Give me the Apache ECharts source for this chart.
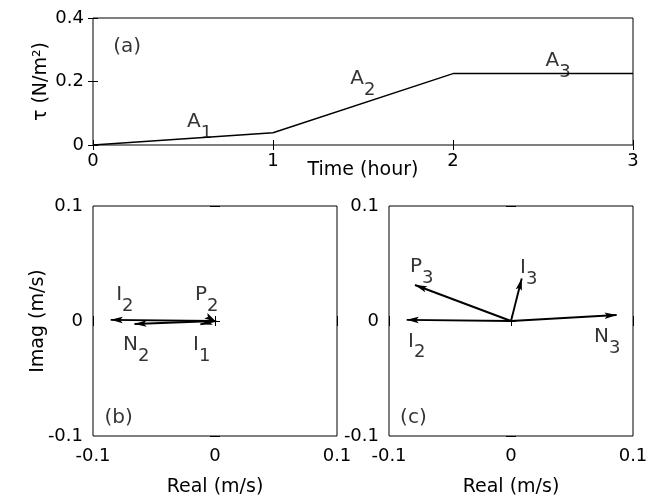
<!DOCTYPE html>
<html>
<head>
<meta charset="utf-8">
<script src="https://cdn.jsdelivr.net/npm/echarts@6/dist/echarts.min.js"></script>
<style>
  html, body { margin: 0; padding: 0; background: #fff; }
  #chart { width: 661px; height: 501px; }
</style>
</head>
<body>
<div id="chart"></div>
<script>
// ---- (a) wind stress ramp over three hours ----
const timeHours = [0, 1, 2, 3];
const stressValues = [0, 0.0385, 0.225, 0.225];

// segment tags on the ramp: letter, subscript, anchor where letter meets subscript (hour, N/m^2)
const segBase = ['A', 'A', 'A'];
const segSub = ['1', '2', '3'];
const segAnchor = [[0.598, 0.072], [1.505, 0.208], [2.59, 0.265]];

// ---- (b) phasors, first/second stage (m/s) ----
const phasorBBase = ['I', 'N', 'P', 'I'];
const phasorBSub = ['2', '2', '2', '1'];
const phasorBReal = [-0.0855, -0.066, 0.001, -0.012];
const phasorBImag = [0.001, -0.0026, -0.0006, -0.003];
const phasorBTag = [[-0.0762, 0.0226], [-0.0631, -0.0209], [-0.0066, 0.0226], [-0.0131, -0.0209]];

// ---- (c) phasors, third stage (m/s) ----
const phasorCBase = ['I', 'P', 'I', 'N'];
const phasorCSub = ['2', '3', '3', '3'];
const phasorCReal = [-0.0855, -0.0787, 0.0088, 0.0866];
const phasorCImag = [0.001, 0.0313, 0.037, 0.0052];
const phasorCTag = [[-0.0795, -0.018], [-0.073, 0.047], [0.0123, 0.046], [0.0803, -0.0139]];

const panelTags = ['(a)', '(b)', '(c)'];
const panelTagAnchor = [[0.19, 0.31], [-0.079, -0.084], [-0.080, -0.084]];

const FONT = 'DejaVu Sans';
const BASE_SIZE = 20;
const SUB_SIZE = 18;
const SUB_DROP = 11;

// narrow filled arrow head; tip sits at the centre of its 24x24 box
const HEAD = 'path://M0,0L0,0M24,24L24,24M12,12L15.2,24L12,21.6L8.8,24Z';

function phasorLines(real, imag) {
  return real.map((re, i) => ({ coords: [[0, 0], [re, imag[i]]] }));
}

// letter drawn to the left of the anchor, its subscript to the right and lowered
function tagPoints(anchors, base, sub) {
  const pts = [];
  anchors.forEach((a, i) => {
    pts.push({ value: [a[0], a[1]], label: { formatter: base[i], align: 'right', fontSize: BASE_SIZE } });
    pts.push({ value: [a[0], a[1]], label: { formatter: sub[i], align: 'left', fontSize: SUB_SIZE, offset: [0, SUB_DROP] } });
  });
  return pts;
}

const tickStyle = { show: true, inside: true, length: 5, lineStyle: { color: '#000', width: 1 } };

function mainX(gridIndex, extra) {
  return Object.assign({
    type: 'value', gridIndex: gridIndex, position: 'bottom',
    axisLine: { show: false },
    axisTick: tickStyle,
    axisLabel: { color: '#000', fontFamily: FONT, fontSize: 18, margin: 11 },
    splitLine: { show: false },
    nameLocation: 'middle',
    nameMoveOverlap: false,
    nameTextStyle: { color: '#000', fontFamily: FONT, fontSize: 19 }
  }, extra);
}
function mainY(gridIndex, extra) {
  return Object.assign({
    type: 'value', gridIndex: gridIndex, position: 'left',
    axisLine: { show: false },
    axisTick: tickStyle,
    axisLabel: { color: '#000', fontFamily: FONT, fontSize: 18, margin: 10 },
    splitLine: { show: false },
    nameLocation: 'middle',
    nameMoveOverlap: false,
    nameTextStyle: { color: '#000', fontFamily: FONT, fontSize: 19 }
  }, extra);
}
function mirror(axis, pos) {
  return Object.assign({}, axis, {
    position: pos, name: '', axisLabel: { show: false }, axisTick: tickStyle
  });
}

const xa0 = mainX(0, { min: 0, max: 3, interval: 1, name: 'Time (hour)', nameGap: 16, axisLabel: { color: '#000', fontFamily: FONT, fontSize: 18, margin: 7 } });
const ya0 = mainY(0, { min: 0, max: 0.4, interval: 0.2, name: 'τ (N/m²)', nameGap: 42, axisLabel: { color: '#000', fontFamily: FONT, fontSize: 18, margin: 9 } });
const xa1 = mainX(1, { min: -0.1, max: 0.1, interval: 0.1, name: 'Real (m/s)', nameGap: 42 });
const ya1 = mainY(1, { min: -0.1, max: 0.1, interval: 0.1, name: 'Imag (m/s)', nameGap: 45 });
const xa2 = mainX(2, { min: -0.1, max: 0.1, interval: 0.1, name: 'Real (m/s)', nameGap: 42 });
const ya2 = mainY(2, { min: -0.1, max: 0.1, interval: 0.1 });

const frame = { show: true, borderColor: '#000', borderWidth: 1, backgroundColor: '#fff' };

const labelSeries = (xi, yi, points) => ({
  type: 'scatter', xAxisIndex: xi, yAxisIndex: yi, silent: true,
  symbolSize: 0, z: 5,
  data: points,
  label: { show: true, position: 'inside', color: '#000', fontFamily: FONT, fontSize: BASE_SIZE }
});

const arrowSeries = (xi, yi, data) => ({
  type: 'lines', coordinateSystem: 'cartesian2d', xAxisIndex: xi, yAxisIndex: yi,
  silent: true, polyline: false,
  symbol: ['none', HEAD], symbolSize: [0, 24],
  lineStyle: { color: '#000', width: 1.9, opacity: 1 },
  itemStyle: { color: '#000' },
  data: data
});

const chart = echarts.init(document.getElementById('chart'), null, { renderer: 'canvas' });
chart.setOption({
  backgroundColor: '#fff',
  animation: false,
  textStyle: { fontFamily: FONT, color: '#000' },
  grid: [
    Object.assign({ left: 93, top: 18, width: 540, height: 127 }, frame),
    Object.assign({ left: 93, top: 206, width: 244, height: 230 }, frame),
    Object.assign({ left: 389, top: 206, width: 244, height: 230 }, frame)
  ],
  xAxis: [xa0, mirror(xa0, 'top'), xa1, mirror(xa1, 'top'), xa2, mirror(xa2, 'top')],
  yAxis: [ya0, mirror(ya0, 'right'), ya1, mirror(ya1, 'right'), ya2, mirror(ya2, 'right')],
  series: [
    {
      type: 'line', xAxisIndex: 0, yAxisIndex: 0, silent: true,
      data: timeHours.map((t, i) => [t, stressValues[i]]),
      showSymbol: false, symbol: 'none',
      lineStyle: { color: '#000', width: 1.4 }
    },
    labelSeries(0, 0, tagPoints(segAnchor, segBase, segSub)),
    arrowSeries(2, 2, phasorLines(phasorBReal, phasorBImag)),
    labelSeries(2, 2, tagPoints(phasorBTag, phasorBBase, phasorBSub)),
    arrowSeries(4, 4, phasorLines(phasorCReal, phasorCImag)),
    labelSeries(4, 4, tagPoints(phasorCTag, phasorCBase, phasorCSub)),
    labelSeries(0, 0, [{ value: panelTagAnchor[0], label: { formatter: panelTags[0] } }]),
    labelSeries(2, 2, [{ value: panelTagAnchor[1], label: { formatter: panelTags[1] } }]),
    labelSeries(4, 4, [{ value: panelTagAnchor[2], label: { formatter: panelTags[2] } }])
  ]
});
</script>
</body>
</html>
